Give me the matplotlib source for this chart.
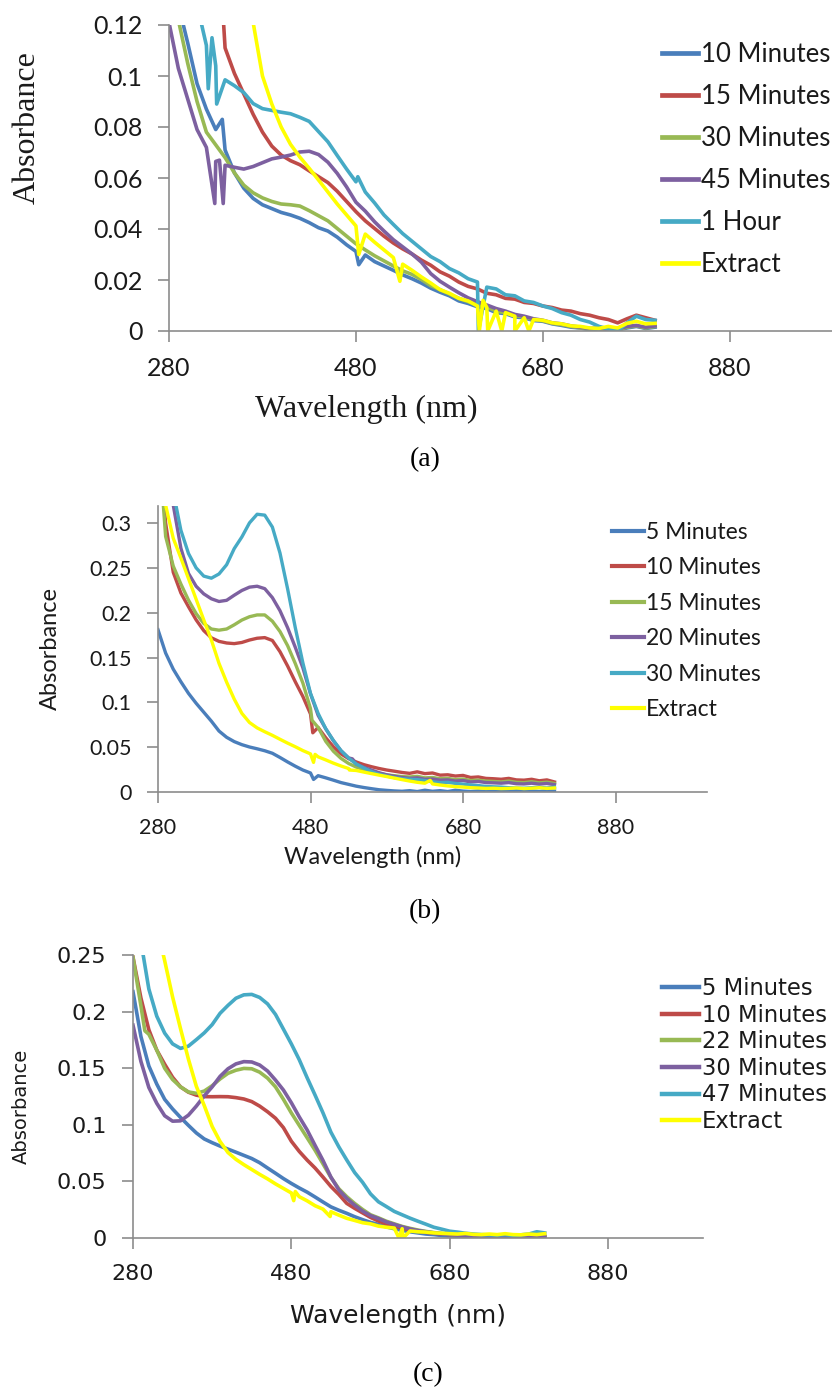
import matplotlib
matplotlib.use("Agg")
import matplotlib.pyplot as plt
from matplotlib.ticker import FuncFormatter
import numpy as np

W, H = 832, 1389

# common wavelength grid (nm)
wavelength = list(range(280, 801, 10))

colors = ['#4A7EBB', '#BE4B48', '#98B954', '#7D60A0', '#46AAC5', '#FFFF00']

# ---------------- panel (a) ----------------
a_labels = ['10 Minutes', '15 Minutes', '30 Minutes', '45 Minutes', '1 Hour', 'Extract']
a_10min = [0.150, 0.128, 0.113, 0.097, 0.087, 0.079, 0.071, 0.062, 0.056, 0.052,
           0.0495, 0.048, 0.0465, 0.0455, 0.0442, 0.0425, 0.0405, 0.0392, 0.0368, 0.0338,
           0.0312, 0.0298, 0.0272, 0.0255, 0.0238, 0.022, 0.0205, 0.0188, 0.0168, 0.0152,
           0.0138, 0.0118, 0.0108, 0.0095, 0.0088, 0.0072, 0.0068, 0.0055, 0.0052, 0.0041,
           0.0038, 0.0028, 0.0022, 0.0015, 0.0012, 0.0005, 0.0008, 0.0, 0.0004, 0.0012,
           0.0018, 0.001, 0.0015]
a_15min = [0.25, 0.21, 0.18, 0.158, 0.14, 0.124, 0.111, 0.101, 0.093, 0.085,
           0.078, 0.0725, 0.069, 0.0668, 0.0652, 0.0628, 0.0605, 0.0582, 0.0548, 0.0508,
           0.0468, 0.0432, 0.0402, 0.0372, 0.0345, 0.0322, 0.0302, 0.0278, 0.0258, 0.0232,
           0.0215, 0.0192, 0.0175, 0.0165, 0.0148, 0.0142, 0.0128, 0.0125, 0.0112, 0.0108,
           0.0098, 0.0092, 0.0082, 0.0078, 0.0068, 0.0062, 0.0052, 0.0045, 0.0032, 0.0048,
           0.0062, 0.0052, 0.0042]
a_30min = [0.150, 0.122, 0.105, 0.090, 0.078, 0.073, 0.068, 0.062, 0.0572, 0.0542,
           0.0522, 0.0508, 0.0498, 0.0495, 0.049, 0.0472, 0.0452, 0.0432, 0.0402, 0.0372,
           0.0342, 0.0318, 0.0295, 0.0275, 0.0255, 0.0236, 0.0222, 0.0202, 0.0178, 0.0162,
           0.0145, 0.0128, 0.0115, 0.0102, 0.0095, 0.0078, 0.0072, 0.006, 0.0055, 0.0045,
           0.004, 0.003, 0.0025, 0.0018, 0.0012, 0.0008, 0.001, 0.0003, 0.0005, 0.0015,
           0.002, 0.0012, 0.0018]
a_45min = [0.121, 0.103, 0.091, 0.079, 0.072, 0.0665, 0.065, 0.0642, 0.0635, 0.0645,
           0.066, 0.0675, 0.0682, 0.069, 0.0702, 0.0705, 0.0692, 0.0662, 0.0618, 0.0565,
           0.0505, 0.047, 0.0428, 0.0392, 0.0358, 0.033, 0.0302, 0.027, 0.0225, 0.0195,
           0.0172, 0.015, 0.013, 0.0115, 0.0102, 0.0088, 0.0078, 0.0065, 0.0058, 0.0048,
           0.0042, 0.0032, 0.0028, 0.002, 0.0015, 0.001, 0.0012, 0.0005, 0.0008, 0.0018,
           0.0022, 0.0015, 0.002]
a_1hour = [0.20, 0.17, 0.145, 0.128, 0.112, 0.104, 0.0985, 0.0962, 0.0935, 0.0892,
           0.0872, 0.0865, 0.0858, 0.0852, 0.0838, 0.0822, 0.0782, 0.0742, 0.0688, 0.0635,
           0.0585, 0.0545, 0.0502, 0.0455, 0.0418, 0.0382, 0.0352, 0.0322, 0.0292, 0.0272,
           0.0245, 0.0228, 0.0205, 0.0192, 0.0172, 0.0165, 0.0142, 0.0138, 0.0118, 0.0112,
           0.0098, 0.0088, 0.0072, 0.0062, 0.0045, 0.0035, 0.0018, 0.0008, 0.0, 0.0032,
           0.0058, 0.0045, 0.0042]
a_extract = [0.60, 0.45, 0.35, 0.28, 0.23, 0.19, 0.16, 0.14, 0.128, 0.121,
             0.100, 0.089, 0.080, 0.0732, 0.0682, 0.0638, 0.0592, 0.0545, 0.0498, 0.0455,
             0.0412, 0.038, 0.0348, 0.0318, 0.0288, 0.0262, 0.0238, 0.0212, 0.0188, 0.0162,
             0.0148, 0.0128, 0.0118, 0.0098, 0.0092, 0.0078, 0.0072, 0.0058, 0.0052, 0.0045,
             0.0042, 0.0032, 0.0028, 0.002, 0.0018, 0.0012, 0.001, 0.0018, 0.0012, 0.003,
             0.0038, 0.0028, 0.003]
# isolated spikes in the recorded spectra: (wavelength, absorbance)
a_spikes = {
    '10 Minutes': [(337, 0.083), (483, 0.026)],
    '15 Minutes': [(336, 0.135)],
    '45 Minutes': [(329, 0.050), (334, 0.067), (338, 0.050)],
    '1 Hour': [(322, 0.095), (326, 0.115), (331, 0.089), (482, 0.0605), (611, 0.0)],
    'Extract': [(483, 0.030), (527, 0.0195), (612, 0.0), (616, 0.012), (621, 0.0),
                (636, 0.0), (650, 0.0), (665, 0.0)],
}

# ---------------- panel (b) ----------------
b_labels = ['5 Minutes', '10 Minutes', '15 Minutes', '20 Minutes', '30 Minutes', 'Extract']
b_5min = [0.181, 0.155, 0.137, 0.123, 0.110, 0.099, 0.089, 0.079, 0.068, 0.061,
          0.0562, 0.0528, 0.0502, 0.0482, 0.046, 0.0432, 0.0385, 0.0335, 0.0288, 0.0245,
          0.0212, 0.0182, 0.0158, 0.0132, 0.0105, 0.0085, 0.0065, 0.005, 0.0037, 0.0025,
          0.0018, 0.0012, 0.0008, 0.0015, 0.0005, 0.002, 0.0008, 0.0015, 0.0005, 0.002,
          0.001, 0.0005, 0.0012, 0.0005, 0.001, 0.0008, 0.0005, 0.0012, 0.0008, 0.001,
          0.0005, 0.0012, 0.001]
b_10min = [0.40, 0.30, 0.245, 0.222, 0.2066, 0.192, 0.180, 0.172, 0.168, 0.1662,
           0.1655, 0.1668, 0.1695, 0.1715, 0.1722, 0.169, 0.1565, 0.1405, 0.123, 0.1065,
           0.087, 0.072, 0.0605, 0.0505, 0.0425, 0.0372, 0.0335, 0.0305, 0.0282, 0.0262,
           0.0245, 0.0232, 0.0218, 0.0208, 0.0225, 0.0205, 0.0212, 0.0188, 0.0192, 0.0178,
           0.0185, 0.0162, 0.0168, 0.0152, 0.0148, 0.0142, 0.0152, 0.0135, 0.0132, 0.0142,
           0.0125, 0.0135, 0.0112]
b_15min = [0.40, 0.285, 0.252, 0.232, 0.214, 0.199, 0.188, 0.1818, 0.1805, 0.1818,
           0.1865, 0.1918, 0.1955, 0.1975, 0.1975, 0.1905, 0.179, 0.1632, 0.1434, 0.1215,
           0.093, 0.072, 0.0565, 0.0455, 0.0375, 0.0318, 0.0278, 0.025, 0.0228, 0.0208,
           0.019, 0.0182, 0.0172, 0.0168, 0.0175, 0.0158, 0.0162, 0.0148, 0.0152, 0.0138,
           0.0145, 0.0128, 0.0132, 0.0122, 0.0118, 0.0112, 0.0122, 0.0108, 0.0105, 0.0115,
           0.0102, 0.011, 0.0095]
b_20min = [0.45, 0.38, 0.32, 0.272, 0.2438, 0.2295, 0.221, 0.2155, 0.2125, 0.2138,
           0.2195, 0.2248, 0.2285, 0.2295, 0.2268, 0.2168, 0.2022, 0.1832, 0.1615, 0.1385,
           0.1095, 0.0855, 0.0705, 0.0572, 0.046, 0.038, 0.0312, 0.0275, 0.0245, 0.0215,
           0.0192, 0.0175, 0.0162, 0.0152, 0.0158, 0.0142, 0.0145, 0.0132, 0.0135, 0.0122,
           0.0128, 0.0112, 0.0118, 0.0105, 0.0102, 0.0098, 0.0105, 0.0092, 0.009, 0.0098,
           0.0088, 0.0095, 0.0082]
b_30min = [0.50, 0.42, 0.335, 0.292, 0.266, 0.250, 0.2408, 0.2385, 0.2432, 0.2535,
           0.2715, 0.2845, 0.3002, 0.3098, 0.3088, 0.2955, 0.2665, 0.2265, 0.1835, 0.144,
           0.110, 0.0877, 0.0705, 0.0575, 0.0462, 0.0378, 0.0312, 0.0268, 0.0228, 0.0198,
           0.0178, 0.016, 0.0148, 0.0142, 0.0138, 0.0128, 0.0115, 0.0105, 0.0108, 0.0095,
           0.0088, 0.0078, 0.0072, 0.0062, 0.0058, 0.0055, 0.0048, 0.0045, 0.0042, 0.0048,
           0.0052, 0.0045, 0.0055]
b_extract = [0.45, 0.32, 0.283, 0.261, 0.238, 0.215, 0.192, 0.1695, 0.1435, 0.1225,
             0.1035, 0.0877, 0.0775, 0.0715, 0.0672, 0.0632, 0.0588, 0.0545, 0.0505, 0.0462,
             0.0425, 0.0392, 0.0358, 0.0322, 0.029, 0.0262, 0.024, 0.0222, 0.0205, 0.0188,
             0.0172, 0.0155, 0.0138, 0.0122, 0.0108, 0.0098, 0.009, 0.0078, 0.0068, 0.006,
             0.0055, 0.0048, 0.0045, 0.004, 0.0042, 0.0038, 0.004, 0.0045, 0.0038, 0.0042,
             0.0048, 0.004, 0.0045]
b_spikes = {
    '5 Minutes': [(484, 0.014)],
    '10 Minutes': [(483, 0.066)],
    '15 Minutes': [(482, 0.080)],
    '20 Minutes': [(535, 0.037)],
    'Extract': [(484, 0.033), (486, 0.042), (531, 0.0245), (637, 0.013)],
}

# ---------------- panel (c) ----------------
c_labels = ['5 Minutes', '10 Minutes', '22 Minutes', '30 Minutes', '47 Minutes', 'Extract']
c_5min = [0.2176, 0.178, 0.152, 0.136, 0.1225, 0.114, 0.1065, 0.0995, 0.0928, 0.0875,
          0.0842, 0.0812, 0.0785, 0.0758, 0.073, 0.0702, 0.0665, 0.0618, 0.0572, 0.0525,
          0.0482, 0.0442, 0.0405, 0.0362, 0.0318, 0.0275, 0.0245, 0.0218, 0.0188, 0.0162,
          0.0138, 0.012, 0.0098, 0.0082, 0.0068, 0.0055, 0.0045, 0.0035, 0.003, 0.0022,
          0.0018, 0.0015, 0.001, 0.0008, 0.0012, 0.0008, 0.0005, 0.001, 0.0005, 0.0008,
          0.0005, 0.001, 0.0008]
c_10min = [0.248, 0.212, 0.184, 0.166, 0.1535, 0.142, 0.1335, 0.1288, 0.1262, 0.1249,
           0.1248, 0.1249, 0.1248, 0.124, 0.1228, 0.1205, 0.1165, 0.1115, 0.1058, 0.0975,
           0.0855, 0.0765, 0.0688, 0.0618, 0.0538, 0.0455, 0.0385, 0.0306, 0.0262, 0.0222,
           0.0182, 0.015, 0.0125, 0.0105, 0.0088, 0.0072, 0.006, 0.005, 0.0042, 0.0035,
           0.003, 0.0025, 0.002, 0.0018, 0.0022, 0.0015, 0.0012, 0.0018, 0.001, 0.0015,
           0.0012, 0.0018, 0.0015]
c_22min = [0.248, 0.205, 0.180, 0.166, 0.150, 0.140, 0.1335, 0.129, 0.1278, 0.1298,
           0.1345, 0.1405, 0.1455, 0.1482, 0.1498, 0.1495, 0.1465, 0.1412, 0.1335, 0.1225,
           0.1105, 0.0995, 0.0885, 0.0775, 0.0655, 0.0535, 0.0435, 0.0365, 0.0305, 0.0252,
           0.0205, 0.0178, 0.0148, 0.0125, 0.0102, 0.0085, 0.007, 0.0058, 0.0048, 0.004,
           0.0032, 0.0025, 0.002, 0.0018, 0.0015, 0.0012, 0.001, 0.0015, 0.0008, 0.0012,
           0.001, 0.0015, 0.0012]
c_30min = [0.188, 0.156, 0.133, 0.119, 0.108, 0.1032, 0.1035, 0.1085, 0.1165, 0.1255,
           0.1335, 0.1428, 0.1495, 0.1538, 0.1558, 0.1555, 0.1528, 0.1475, 0.1395, 0.1307,
           0.1195, 0.107, 0.0954, 0.0818, 0.0685, 0.0538, 0.0425, 0.035, 0.029, 0.0238,
           0.0198, 0.0172, 0.0142, 0.012, 0.0098, 0.008, 0.0065, 0.0055, 0.0045, 0.0038,
           0.003, 0.0025, 0.002, 0.0015, 0.0012, 0.001, 0.0008, 0.0012, 0.0005, 0.001,
           0.0008, 0.0012, 0.001]
c_47min = [0.32, 0.262, 0.22, 0.196, 0.181, 0.1715, 0.1675, 0.1695, 0.1752, 0.1812,
           0.1885, 0.1985, 0.2055, 0.2118, 0.2148, 0.2152, 0.2125, 0.2068, 0.1975, 0.1845,
           0.1715, 0.1575, 0.1415, 0.1262, 0.1105, 0.0935, 0.0805, 0.0689, 0.0578, 0.0492,
           0.039, 0.032, 0.0278, 0.0235, 0.0205, 0.0175, 0.0148, 0.0122, 0.0095, 0.0078,
           0.006, 0.0052, 0.0042, 0.0035, 0.003, 0.0028, 0.0025, 0.003, 0.0022, 0.0028,
           0.0035, 0.0055, 0.0045]
c_extract = [0.45, 0.38, 0.32, 0.275, 0.245, 0.213, 0.185, 0.158, 0.134, 0.117,
             0.0985, 0.0852, 0.0755, 0.0695, 0.0648, 0.0605, 0.0562, 0.0522, 0.0478, 0.0438,
             0.0398, 0.0365, 0.0328, 0.0285, 0.0255, 0.0232, 0.0202, 0.0174, 0.0155, 0.0135,
             0.0125, 0.0105, 0.0095, 0.0088, 0.0082, 0.0062, 0.0055, 0.0052, 0.0045, 0.0042,
             0.0038, 0.0035, 0.004, 0.0032, 0.003, 0.0035, 0.003, 0.0038, 0.003, 0.0028,
             0.0035, 0.003, 0.0038]
c_spikes = {
    '22 Minutes': [(295, 0.183)],
    'Extract': [(483, 0.033), (485, 0.041), (529, 0.019), (616, 0.0), (621, 0.0)],
}


def fig_xy(x, y):
    return x / W, 1 - y / H


def draw_panel(rect, series, labels, spikes, ylim, ystep, lw, tick_font, tick_size,
               leg_anchor, leg_size, leg_font, handlelength, labelspacing, leg_lw):
    ax = fig.add_axes(rect)
    for vals, lab, col in zip(series, labels, colors):
        x = np.array(wavelength + [s[0] for s in spikes.get(lab, [])], dtype=float)
        y = np.array(vals + [s[1] for s in spikes.get(lab, [])], dtype=float)
        order = np.argsort(x, kind='stable')
        ax.plot(x[order], y[order], color=col, lw=lw, label=lab, solid_joinstyle='round')
    ax.set_xlim(280, 1000)
    ax.set_ylim(*ylim)
    ax.set_xticks([280, 480, 680, 880])
    ax.set_yticks(np.arange(0, ylim[1] + 1e-9, ystep))
    ax.yaxis.set_major_formatter(FuncFormatter(lambda v, _: '%g' % round(v, 4)))
    for s in ['top', 'right']:
        ax.spines[s].set_visible(False)
    for s in ['left', 'bottom']:
        ax.spines[s].set_color('#8C8C8C')
        ax.spines[s].set_linewidth(1.2)
    ax.tick_params(direction='out', length=8, width=1.2, color='#8C8C8C',
                   labelsize=tick_size, labelcolor='#1A1A1A', pad=11)
    for t in ax.get_xticklabels() + ax.get_yticklabels():
        t.set_family(tick_font)
    leg = ax.legend(loc='upper left', bbox_to_anchor=leg_anchor, bbox_transform=fig.transFigure,
                    frameon=False, borderpad=0, borderaxespad=0, handlelength=handlelength,
                    handletextpad=0.1, labelspacing=labelspacing,
                    prop={'family': leg_font, 'size': leg_size})
    for ln in leg.get_lines():
        ln.set_linewidth(leg_lw)
    for t in leg.get_texts():
        t.set_color('#1A1A1A')
    return ax


fig = plt.figure(figsize=(W / 100, H / 100), dpi=100)
fig.patch.set_facecolor('white')

# (a)
draw_panel([169 / W, 1 - 331 / H, 673 / W, 306 / H],
           [a_10min, a_15min, a_30min, a_45min, a_1hour, a_extract], a_labels, a_spikes,
           (0, 0.12), 0.02, 2.6, 'Lato', 18,
           fig_xy(662, 42), 18.5, 'Lato', 1.4, 0.66, 3.4)
fig.text(*fig_xy(27, 128), 'Absorbance', rotation=90, ha='center', va='center',
         family='Liberation Serif', size=23, color='#1A1A1A')
fig.text(*fig_xy(366, 417), 'Wavelength (nm)', ha='center', va='baseline',
         family='Liberation Serif', size=23, color='#1A1A1A')
fig.text(*fig_xy(425, 460), '(a)', ha='center', va='center',
         family='Liberation Serif', size=20, color='black')

# (b)
draw_panel([158 / W, 1 - 792 / H, 549 / W, 286 / H],
           [b_5min, b_10min, b_15min, b_20min, b_30min, b_extract], b_labels, b_spikes,
           (0, 0.319), 0.05, 2.4, 'Lato', 15.5,
           fig_xy(612, 522), 16.5, 'Lato', 1.4, 0.63, 3.0)
fig.text(*fig_xy(50, 648), 'Absorbance', rotation=90, ha='center', va='center',
         family='Lato', size=17, color='#1A1A1A')
fig.text(*fig_xy(373, 864), 'Wavelength (nm)', ha='center', va='baseline',
         family='Lato', size=17, color='#1A1A1A')
fig.text(*fig_xy(425, 912), '(b)', ha='center', va='center',
         family='Liberation Serif', size=20, color='black')

# (c)
draw_panel([133 / W, 1 - 1238 / H, 570 / W, 283 / H],
           [c_5min, c_10min, c_22min, c_30min, c_47min, c_extract], c_labels, c_spikes,
           (0, 0.25), 0.05, 2.6, 'DejaVu Sans', 16,
           fig_xy(662, 977), 16.3, 'DejaVu Sans', 1.65, 0.16, 3.2)
fig.text(*fig_xy(21, 1106), 'Absorbance', rotation=90, ha='center', va='center',
         family='DejaVu Sans', size=14, color='#1A1A1A')
fig.text(*fig_xy(398, 1323), 'Wavelength (nm)', ha='center', va='baseline',
         family='DejaVu Sans', size=18, color='#1A1A1A')
fig.text(*fig_xy(428, 1375), '(c)', ha='center', va='center',
         family='Liberation Serif', size=20, color='black')

fig.savefig('out.png', dpi=100)
